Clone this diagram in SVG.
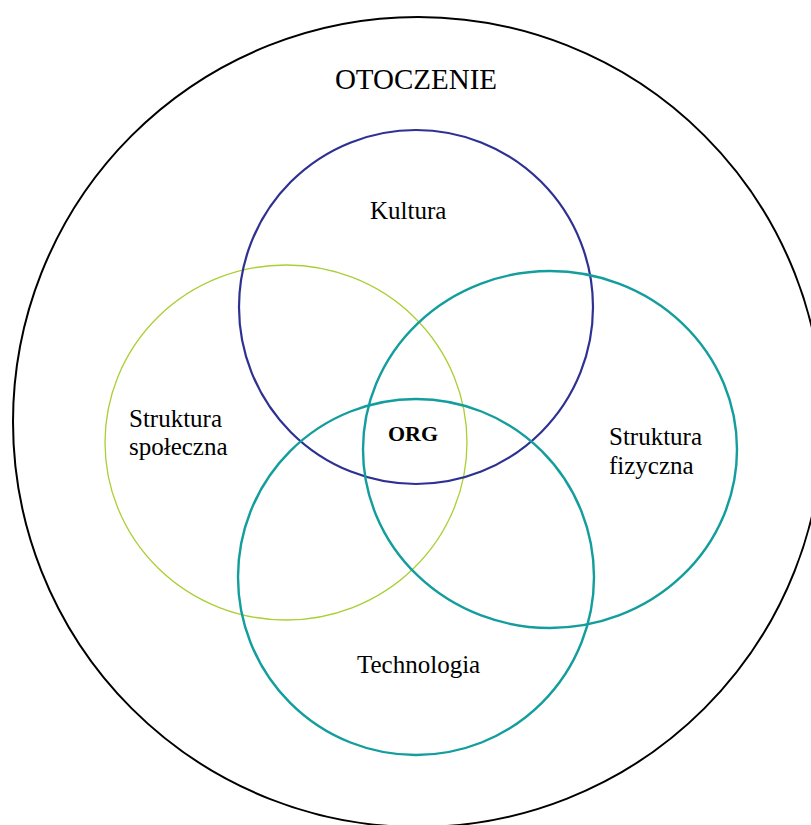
<svg xmlns="http://www.w3.org/2000/svg" width="811" height="825" viewBox="0 0 811 825">
  <style>
    .ring { fill: none; }
    .lbl { font-family: "Liberation Serif", "Times New Roman", serif; font-size: 25px; fill: #000; }
  </style>
  <rect x="0" y="0" width="811" height="825" fill="#fff"/>

  <!-- environment -->
  <g id="otoczenie">
    <circle class="ring" cx="418" cy="422" r="405" stroke="#000" stroke-width="2"/>
    <text class="lbl" x="416" y="89" text-anchor="middle" style="font-size:29px">OTOCZENIE</text>
  </g>

  <g id="struktura-spoleczna">
    <ellipse class="ring" cx="286" cy="442.5" rx="181" ry="177.5" stroke="#a9cf32" stroke-width="1.3"/>
    <text class="lbl" x="129" y="427">Struktura</text>
    <text class="lbl" x="129" y="455">społeczna</text>
  </g>

  <g id="kultura">
    <circle class="ring" cx="416" cy="307" r="177" stroke="#2e3192" stroke-width="2.2"/>
    <text class="lbl" x="370" y="219">Kultura</text>
  </g>

  <g id="struktura-fizyczna">
    <ellipse class="ring" cx="550" cy="449.5" rx="187" ry="178.5" stroke="#139d9d" stroke-width="2.4"/>
    <text class="lbl" x="609" y="445">Struktura</text>
    <text class="lbl" x="609" y="474">fizyczna</text>
  </g>

  <g id="technologia">
    <circle class="ring" cx="416" cy="577" r="178" stroke="#139d9d" stroke-width="2.4"/>
    <text class="lbl" x="357" y="673">Technologia</text>
  </g>

  <g id="org">
    <text class="lbl" x="388" y="441" style="font-size:22px;font-weight:bold">ORG</text>
  </g>

  <g id="connectors"/>
</svg>
